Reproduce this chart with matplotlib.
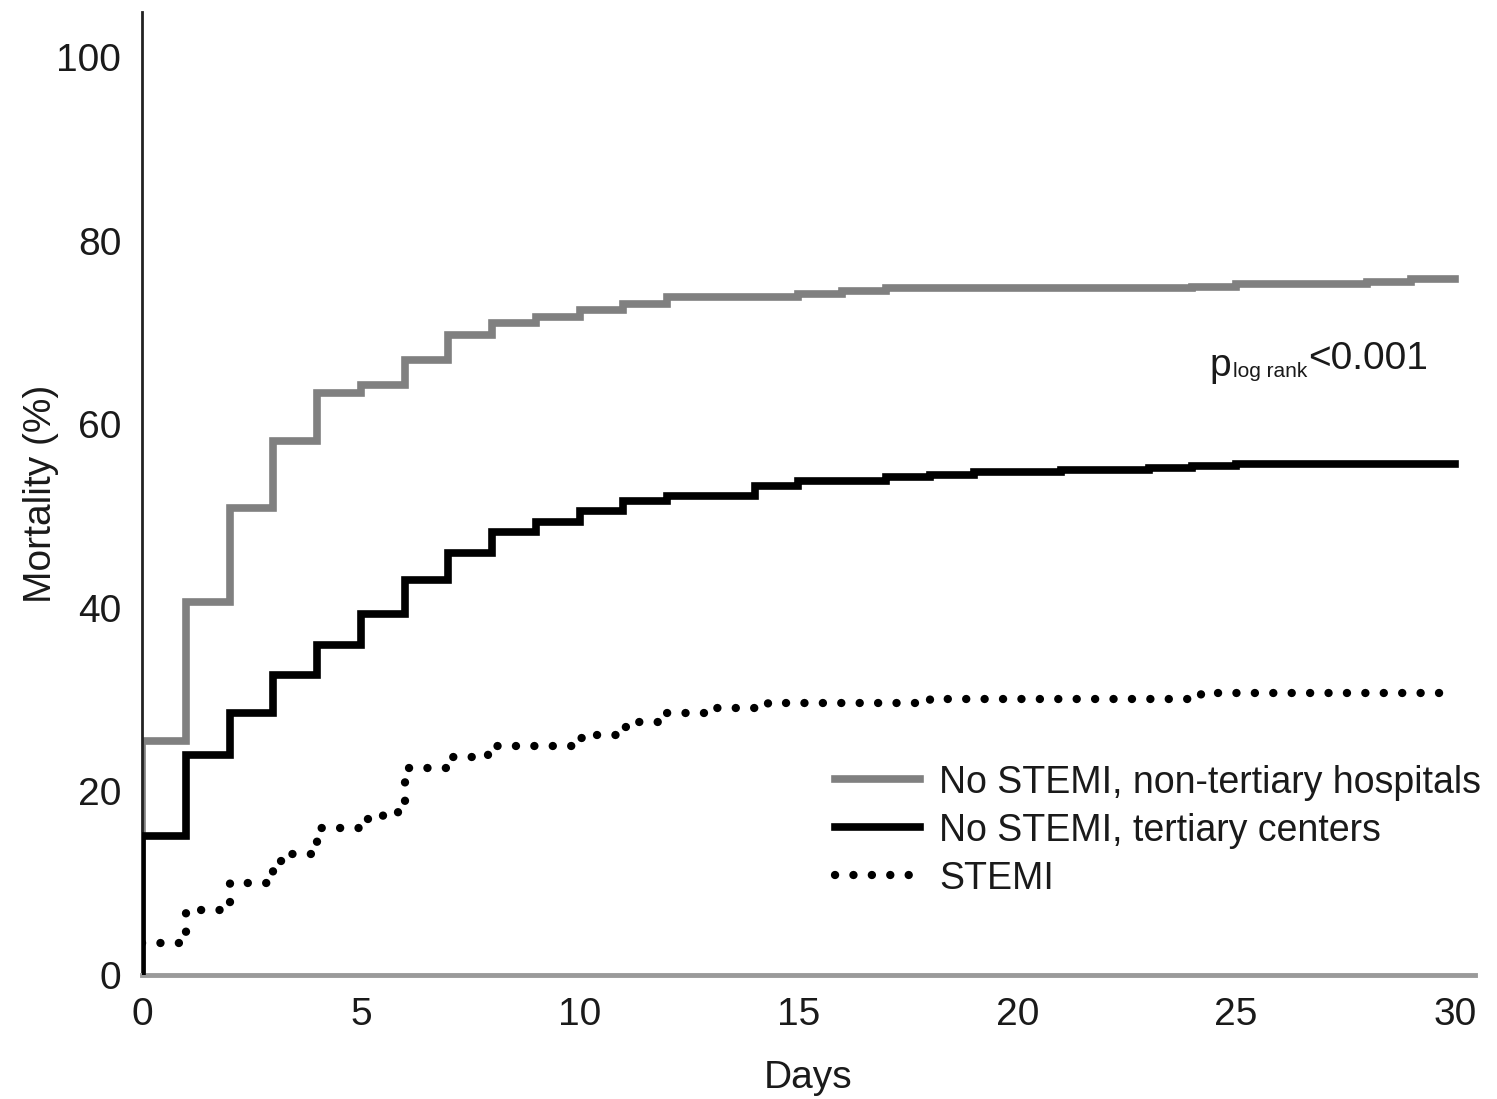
import matplotlib
matplotlib.use('Agg')
import matplotlib.pyplot as plt

# Kaplan-Meier style cumulative mortality
days_nontert = [0, 1, 2, 3, 4, 5, 6, 7, 8, 9, 10, 11, 12, 15, 16, 17, 24, 25, 28, 29]
mort_nontert = [25.5, 40.6, 50.9, 58.2, 63.4, 64.3, 67.0, 69.7, 71.0, 71.7, 72.4, 73.1, 73.9,
                74.2, 74.5, 74.8, 75.0, 75.3, 75.5, 75.8]

days_tert = [0, 1, 2, 3, 4, 5, 6, 7, 8, 9, 10, 11, 12, 14, 15, 17, 18, 19, 21, 23, 24, 25]
mort_tert = [15.2, 24.0, 28.5, 32.7, 36.0, 39.3, 43.0, 46.0, 48.3, 49.4, 50.5, 51.6, 52.2,
             53.3, 53.8, 54.2, 54.5, 54.8, 55.0, 55.2, 55.5, 55.7]

days_stemi = [0, 1, 2, 3, 3.3, 4, 5, 5.5, 5.85, 6, 7, 7.9, 10, 10.35, 11, 11.3, 12, 13.1, 14.3, 18, 24.2]
mort_stemi = [3.5, 7.1, 10.0, 12.4, 13.2, 16.0, 17.0, 17.6, 18.2, 22.6, 23.7, 25.0, 25.8, 26.1,
              27.0, 27.6, 28.5, 29.1, 29.6, 30.1, 30.7]

labels = ['No STEMI, non-tertiary hospitals', 'No STEMI, tertiary centers', 'STEMI']
x_ticks = [0, 5, 10, 15, 20, 25, 30]
y_ticks = [0, 20, 40, 60, 80, 100]
END_DAY = 30

plt.rcParams['font.family'] = ['Liberation Sans', 'DejaVu Sans']
FS = 28
TXT = '#1a1a1a'

fig = plt.figure(figsize=(14.97, 10.99), dpi=100)
ax = fig.add_axes([0.0949, 0.1128, 0.8904, 0.8762])


def curve(days, vals, from_zero=True):
    x = list(days) + [END_DAY]
    y = list(vals) + [vals[-1]]
    if from_zero:
        x = [0] + x
        y = [0] + y
    return x, y


x, y = curve(days_nontert, mort_nontert)
ax.step(x, y, where='post', color='#808080', lw=5.5, label=labels[0], zorder=2,
        solid_joinstyle='miter')
x, y = curve(days_tert, mort_tert)
ax.step(x, y, where='post', color='black', lw=5.5, label=labels[1], zorder=3,
        solid_joinstyle='miter')
x, y = curve(days_stemi, mort_stemi, from_zero=False)
ax.step(x, y, where='post', color='black', lw=6, label=labels[2], zorder=3,
        linestyle=(0, (0.01, 2.2)), dash_capstyle='round')

ax.set_xlim(0, 30.46)
ax.set_ylim(0, 104.9)
ax.set_xticks(x_ticks)
ax.set_yticks(y_ticks)
ax.tick_params(axis='both', length=0, labelsize=FS, colors=TXT)
ax.tick_params(axis='y', pad=15)
ax.tick_params(axis='x', pad=16)

for s in ['top', 'right']:
    ax.spines[s].set_visible(False)
ax.spines['left'].set_color('#222222')
ax.spines['left'].set_linewidth(2)
ax.spines['bottom'].set_color('#9a9a9a')
ax.spines['bottom'].set_linewidth(3.5)

ax.set_ylabel('Mortality (%)', fontsize=FS, color=TXT)
ax.yaxis.set_label_coords(-0.062, 0.5)
ax.set_xlabel('Days', fontsize=FS, color=TXT)
ax.xaxis.set_label_coords(0.5, -0.088)

# p-value annotation with subscript
tp = ax.text(24.4, 65.3, 'p', fontsize=FS, color=TXT, va='baseline', ha='left')
ts = ax.annotate('log rank', xy=(1, 0), xycoords=tp, xytext=(1, 2), textcoords='offset points',
                 fontsize=15, color=TXT, va='bottom', ha='left')
ax.annotate('<0.001', xy=(1, 0), xycoords=ts, xytext=(1, 3), textcoords='offset points',
            fontsize=FS, color=TXT, va='bottom', ha='left')

ax.legend(loc='center left', bbox_to_anchor=(0.52, 0.15), frameon=False, fontsize=27,
          handlelength=2.25, handletextpad=0.52, labelspacing=0.32, borderpad=0,
          borderaxespad=0, labelcolor=TXT)

fig.savefig('out.png', dpi=100)
